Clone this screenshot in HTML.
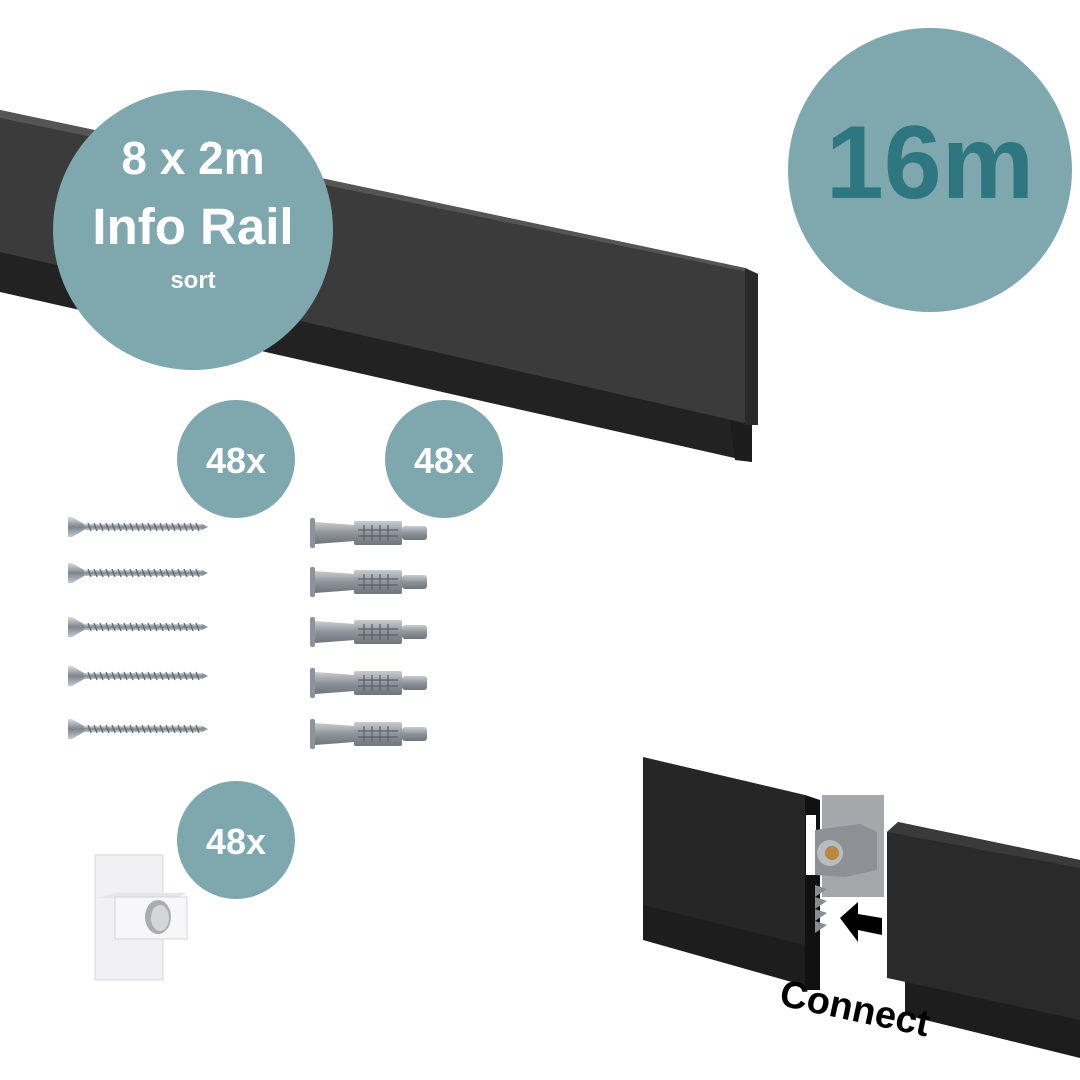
<!DOCTYPE html>
<html><head><meta charset="utf-8"><style>
html,body{margin:0;padding:0;background:#fff;}
svg{display:block;}
text{font-family:"Liberation Sans",sans-serif;font-weight:bold;}
</style></head><body>
<svg width="1080" height="1080" viewBox="0 0 1080 1080" xmlns="http://www.w3.org/2000/svg">
<defs>
<linearGradient id="sg" x1="0" y1="0" x2="0" y2="1"><stop offset="0" stop-color="#d8dcdf"/><stop offset="0.5" stop-color="#7d858b"/><stop offset="1" stop-color="#c4c9cd"/></linearGradient>
<linearGradient id="ag" x1="0" y1="0" x2="0" y2="1"><stop offset="0" stop-color="#c9cdd0"/><stop offset="0.5" stop-color="#8e9499"/><stop offset="1" stop-color="#6f757a"/></linearGradient>
<g id="screw">
<path d="M0,-10 L4,-10 L16,-3 L16,3 L4,10 L0,10 Z" fill="url(#sg)"/>
<rect x="16" y="-3" width="118" height="6" fill="url(#sg)"/>
<path d="M134,-3 L140,0 L134,3 Z" fill="#8a9096"/>
<path d="M20,-4 l3,8 M26,-4 l3,8 M32,-4 l3,8 M38,-4 l3,8 M44,-4 l3,8 M50,-4 l3,8 M56,-4 l3,8 M62,-4 l3,8 M68,-4 l3,8 M74,-4 l3,8 M80,-4 l3,8 M86,-4 l3,8 M92,-4 l3,8 M98,-4 l3,8 M104,-4 l3,8 M110,-4 l3,8 M116,-4 l3,8 M122,-4 l3,8 M128,-4 l3,8" stroke="#5d646a" stroke-width="1.2"/>
</g>
<g id="anchor">
<rect x="0" y="-15" width="5" height="30" rx="2" fill="#8d9398"/>
<path d="M5,-11 L45,-8 L45,8 L5,11 Z" fill="url(#ag)"/>
<rect x="44" y="-12" width="48" height="24" rx="2" fill="url(#ag)"/>
<path d="M48,-3 h40 M48,3 h40 M54,-8 v16 M62,-8 v16 M70,-8 v16 M78,-8 v16" stroke="#5a6066" stroke-width="1.2"/>
<rect x="92" y="-7" width="25" height="14" rx="3" fill="url(#ag)"/>
</g>
</defs>

<!-- top rail -->
<polygon points="0,240 752,412 752,462 0,292" fill="#222"/>
<polygon points="0,110 745,268 758,274 758,425 740,422 0,252" fill="#3b3b3b"/>
<polygon points="0,110 745,268 758,274 0,118" fill="#555"/>
<polygon points="745,268 758,274 758,425 745,425" fill="#2a2a2a"/>
<polygon points="730,420 745,425 752,425 752,462 735,460" fill="#1c1c1c"/>

<!-- circles -->
<circle cx="193" cy="230" r="140" fill="#7ea8ad"/>
<text x="193" y="174" font-size="46" fill="#fff" text-anchor="middle">8 x 2m</text>
<text x="193" y="244" font-size="51" fill="#fff" text-anchor="middle">Info Rail</text>
<text x="193" y="288" font-size="24" fill="#fff" text-anchor="middle">sort</text>

<circle cx="930" cy="170" r="142" fill="#7ea8ad"/>
<text x="930" y="198" font-size="104" fill="#2e7680" text-anchor="middle">16m</text>

<circle cx="236" cy="459" r="59" fill="#7ea8ad"/>
<text x="236" y="473" font-size="36" fill="#fff" text-anchor="middle">48x</text>
<circle cx="444" cy="459" r="59" fill="#7ea8ad"/>
<text x="444" y="473" font-size="36" fill="#fff" text-anchor="middle">48x</text>
<circle cx="236" cy="840" r="59" fill="#7ea8ad"/>
<text x="236" y="854" font-size="36" fill="#fff" text-anchor="middle">48x</text>

<!-- screws -->
<use href="#screw" x="68" y="527"/>
<use href="#screw" x="68" y="573"/>
<use href="#screw" x="68" y="627"/>
<use href="#screw" x="68" y="676"/>
<use href="#screw" x="68" y="729"/>
<!-- anchors -->
<use href="#anchor" x="310" y="533"/>
<use href="#anchor" x="310" y="582"/>
<use href="#anchor" x="310" y="632"/>
<use href="#anchor" x="310" y="683"/>
<use href="#anchor" x="310" y="734"/>

<!-- clip -->
<rect x="95" y="855" width="68" height="125" fill="#f1f1f3" stroke="#d8d8dc"/>
<polygon points="97,898 115,893 188,893 175,898" fill="#e6e6ea"/>
<rect x="115" y="897" width="72" height="42" fill="#f7f7f9" stroke="#d4d4d8"/>
<ellipse cx="158" cy="917" rx="13" ry="17" fill="#a9adb2"/>
<ellipse cx="160" cy="918" rx="9" ry="13" fill="#d4d6d9"/>

<!-- connect left rail -->
<polygon points="643,900 820,945 820,990 643,940" fill="#1d1d1d"/>
<polygon points="643,757 805,795 805,945 643,905" fill="#262626"/>
<polygon points="805,795 820,800 820,990 805,990" fill="#111"/>
<rect x="806" y="815" width="10" height="60" fill="#fff"/>
<!-- connector plate -->
<rect x="822" y="795" width="62" height="102" fill="#a5a8ab"/>
<polygon points="815,830 860,824 877,832 877,870 845,877 815,875" fill="#8d9094"/>
<circle cx="830" cy="853" r="13" fill="#b9bcbf"/>
<circle cx="832" cy="853" r="7" fill="#b78a3e"/>
<path d="M815,885 l12,4 l-12,8 l12,4 l-12,8 l12,4 l-12,8 l12,4 l-12,8 Z" fill="#8a8d90"/>
<!-- arrow -->
<polygon points="840,918 858,902 858,914 882,918 882,935 858,930 858,942" fill="#000"/>
<!-- right rail -->
<polygon points="905,980 1080,1015 1080,1058 905,1015" fill="#1d1d1d"/>
<polygon points="887,832 898,822 1080,860 1080,1020 887,978" fill="#2a2a2a"/>
<polygon points="887,832 898,822 1080,860 1080,868" fill="#3a3a3a"/>

<text x="778" y="1005" font-size="38" fill="#000" transform="rotate(12 778 1005)">Connect</text>
</svg>
</body></html>
